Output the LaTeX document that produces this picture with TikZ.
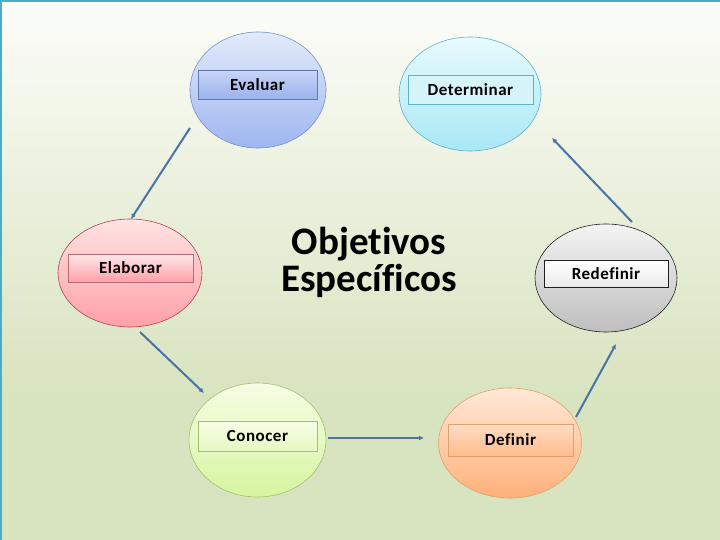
\documentclass[tikz,border=0pt]{standalone}
\usepackage{fontspec}
\setmainfont{Carlito}[Ligatures=NoCommon]
\usetikzlibrary{shapes.geometric,arrows.meta}
\definecolor{bgtop}{HTML}{FCFDF9}
\definecolor{bgbot}{HTML}{D8E3BF}
\definecolor{frame}{HTML}{4BACC6}
\definecolor{arrowc}{HTML}{4A74A8}
\definecolor{bluet}{HTML}{E3EBFB}\definecolor{blueb}{HTML}{9EB6F0}\definecolor{bluel}{HTML}{7890C8}
\definecolor{cyant}{HTML}{E8FAFD}\definecolor{cyanb}{HTML}{A8E8F6}\definecolor{cyanl}{HTML}{60B0C8}
\definecolor{pinkt}{HTML}{FFE3E3}\definecolor{pinkb}{HTML}{FFA0A8}\definecolor{pinkl}{HTML}{B04050}
\definecolor{grayt}{HTML}{F4F4F4}\definecolor{grayb}{HTML}{BEBEBE}\definecolor{grayl}{HTML}{202020}
\definecolor{greent}{HTML}{F6FDE4}\definecolor{greenb}{HTML}{D6F5A0}\definecolor{greenl}{HTML}{A0C070}
\definecolor{oranget}{HTML}{FFE8D8}\definecolor{orangeb}{HTML}{FFB078}\definecolor{orangel}{HTML}{E0A070}
\begin{document}
\begin{tikzpicture}[x=1pt,y=-1pt,
  bubble/.style={ellipse, draw, line width=0.6pt, inner sep=0pt},
  lbl/.style={rectangle, draw, line width=0.6pt, inner sep=0pt,
    font=\fontsize{17}{19}\selectfont\bfseries\addfontfeatures{LetterSpace=3}},
  conn/.style={draw=arrowc, line width=2pt, -{Latex[length=5pt,width=5pt]}}]
\useasboundingbox (0,0) rectangle (720,540);
% background
\shade[top color=bgtop, bottom color=bgbot] (0,0) rectangle (720,400);
\fill[bgbot] (0,399.5) rectangle (720,540);
\draw[frame, line width=1.6pt] (0.8,540) -- (0.8,0.8) -- (720,0.8);
% bubbles
\node[bubble, draw=bluel, top color=bluet, bottom color=blueb, minimum width=136pt, minimum height=116pt] (evb) at (258,90) {};
\node[bubble, draw=cyanl, top color=cyant, bottom color=cyanb, minimum width=142pt, minimum height=114pt] (deb) at (470,94) {};
\node[bubble, draw=pinkl, top color=pinkt, bottom color=pinkb, minimum width=144pt, minimum height=108pt] (elb) at (130,273) {};
\node[bubble, draw=grayl, top color=grayt, bottom color=grayb, minimum width=142pt, minimum height=108pt] (reb) at (606,278) {};
\node[bubble, draw=greenl, top color=greent, bottom color=greenb, minimum width=137pt, minimum height=114pt] (cob) at (257.5,440) {};
\node[bubble, draw=orangel, top color=oranget, bottom color=orangeb, minimum width=143pt, minimum height=110pt] (dfb) at (510,443) {};
% labels
\node[lbl, draw=bluel!85!black, top color=bluet!60!blueb, bottom color=blueb!90!bluel, minimum width=119pt, minimum height=29pt] (ev) at (257.5,84.5) {Evaluar};
\node[lbl, draw=cyanl, fill=cyant!70!cyanb, minimum width=125pt, minimum height=29pt] (de) at (470.5,89.5) {Determinar};
\node[lbl, draw=pinkl!80, top color=pinkt!80!white, bottom color=pinkb, minimum width=125pt, minimum height=28pt] (el) at (130.5,268) {Elaborar};
\node[lbl, draw=grayl, top color=white, bottom color=grayt!80!grayb, minimum width=124pt, minimum height=27pt] (re) at (606,273.5) {Redefinir};
\node[lbl, draw=greenl, top color=greent, bottom color=greent!50!greenb, minimum width=119pt, minimum height=30pt] (co) at (257.5,436) {Conocer};
\node[lbl, draw=orangel, top color=oranget!80!orangeb, bottom color=orangeb!80!oranget, minimum width=125pt, minimum height=32pt] (df) at (510.5,440) {Definir};
% center title
\node[align=center, font=\fontsize{39}{37}\selectfont\bfseries] (title) at (369,262) {Objetivos\\Específicos};
% connector endpoints
\coordinate (a1s) at (190,128); \coordinate (a1e) at (131,219);
\coordinate (a2s) at (140,332); \coordinate (a2e) at (204,393);
\coordinate (a3s) at (328,438); \coordinate (a3e) at (424,438);
\coordinate (a4s) at (576,417); \coordinate (a4e) at (616,344);
\coordinate (a5s) at (632,222); \coordinate (a5e) at (552,138);
\draw[conn] (a1s) -- (a1e);
\draw[conn] (a2s) -- (a2e);
\draw[conn] (a3s) -- (a3e);
\draw[conn] (a4s) -- (a4e);
\draw[conn] (a5s) -- (a5e);
\end{tikzpicture}
\end{document}
